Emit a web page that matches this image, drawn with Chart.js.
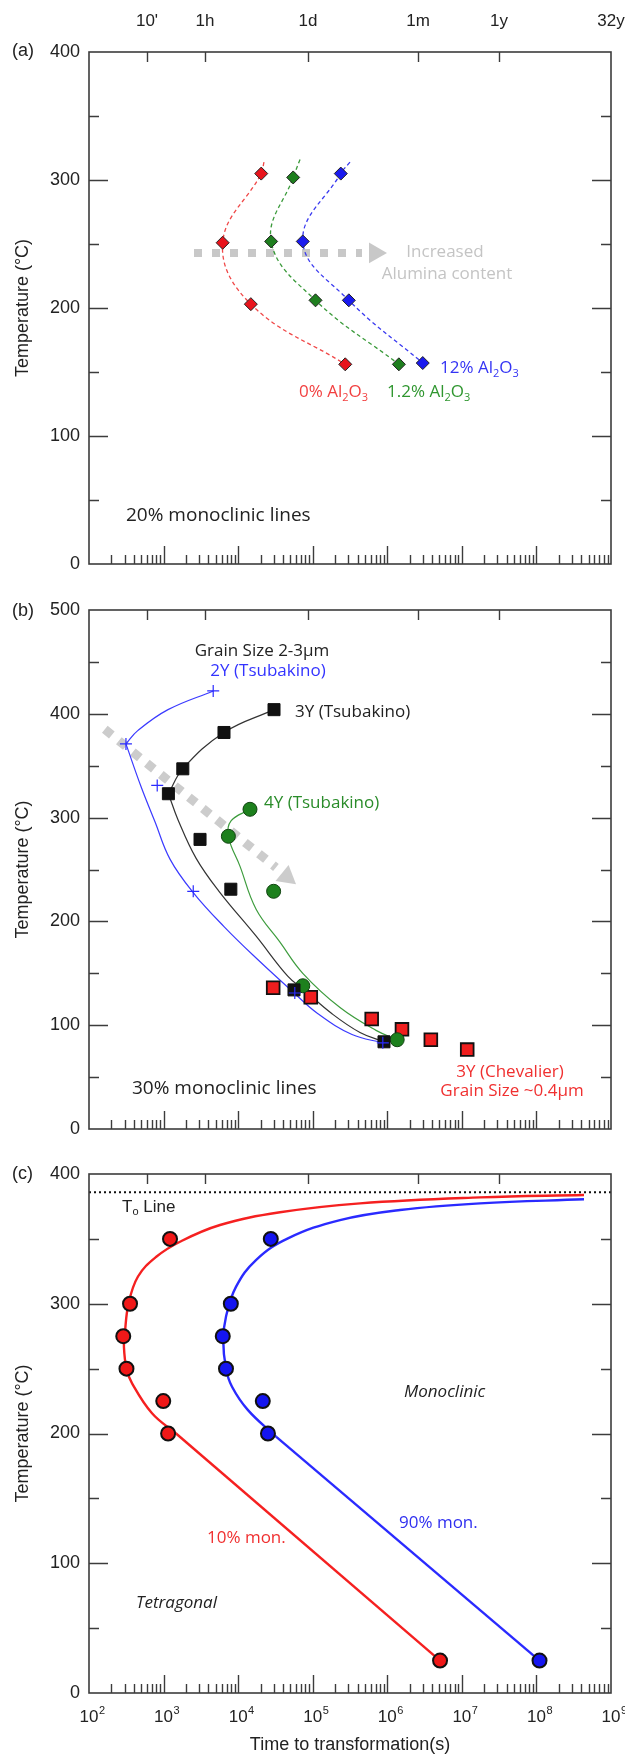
<!DOCTYPE html>
<html>
<head>
<meta charset="utf-8">
<script src="https://cdn.jsdelivr.net/npm/chart.js@4.4.1/dist/chart.umd.min.js"></script>
<style>
  html, body { margin: 0; padding: 0; background: #fff; }
  #wrap { position: relative; width: 625px; height: 1755px; }
  canvas { position: absolute; left: 0; }
</style>
</head>
<body>
<div id="wrap">
  <canvas id="panelA" width="625" height="590" style="top:0px"></canvas>
  <canvas id="panelB" width="625" height="560" style="top:590px"></canvas>
  <canvas id="panelC" width="625" height="605" style="top:1150px"></canvas>
</div>
<script>
// time labels on top of panel (a), in seconds
const topTickSeconds = [600, 3600, 86400, 2592000, 31536000, 1e9];
const topTickLabels = ["10'", '1h', '1d', '1m', '1y', '32y'];

// (a) 20% monoclinic, three alumina contents
const alu0Time = [20400, 6200, 14800, 273000];
const alu0Temp = [305, 251, 203, 156];
const alu1Time = [54700, 27700, 109000, 1430000];
const alu1Temp = [302, 252, 206, 156];
const alu12Time = [238000, 73600, 305000, 2990000];
const alu12Temp = [305, 252, 206, 157];
const alu0CurveTime = [22200, 20400, 6200, 14800, 273000];
const alu0CurveTemp = [314, 305, 251, 203, 156];
const alu1CurveTime = [67600, 54700, 27700, 109000, 1430000];
const alu1CurveTemp = [316, 302, 252, 206, 156];
const alu12CurveTime = [316000, 238000, 73600, 305000, 2990000];
const alu12CurveTemp = [314, 305, 252, 206, 157];
const arrowATime = [2560, 458000];
const arrowATemp = [243, 243];
const arrowAHeadTime = [684000];
const arrowAHeadTemp = [243];

// (b) 30% monoclinic
const y2Time = [4630, 313, 822, 2500, 57500, 871000];
const y2Temp = [422, 371, 331, 229, 131, 83];
const y2UpperTime = [4630, 1146, 454, 313];
const y2UpperTemp = [422, 404, 384, 371];
const y2LowerTime = [313, 498, 767, 1219, 2483, 6460, 18450, 54450, 117500, 336500, 871000];
const y2LowerTemp = [371, 330, 296, 260, 228, 195, 163, 132, 111, 91, 83];
const y3Time = [30270, 6460, 1811, 1161, 3083, 7980, 56100, 903600];
const y3Temp = [404, 382, 347, 323, 279, 231, 134, 84];
const y3UpperTime = [30270, 6460, 1811, 1161];
const y3UpperTemp = [404, 382, 347, 323];
const y3LowerTime = [1161, 1560, 2723, 5540, 17340, 46560, 76400, 181600, 430500, 903600];
const y3LowerTemp = [323, 298, 261, 229, 186, 147, 134, 111, 93, 84];
const y4Time = [14420, 7396, 29920, 73600, 1358000];
const y4Temp = [308, 282, 229, 138, 86];
const y4CurveTime = [14420, 8070, 7396, 10600, 17340, 36390, 73600, 232300, 706300, 1358000];
const y4CurveTemp = [308, 297, 282, 253, 212, 180, 150, 117, 95, 86];
const chevTime = [29510, 94190, 618000, 1574000, 3837000, 11800000];
const chevTemp = [136, 127, 106, 96, 86, 76.5];
const arrowBTime = [163, 32100];
const arrowBTemp = [385, 252];
const arrowBHeadTime = [44800];
const arrowBHeadTemp = [243];

// (c) TTT curves
const mon10Time = [1220, 355, 288, 318, 990, 1150, 5100000];
const mon10Temp = [350, 300, 275, 250, 225, 200, 25];
const mon90Time = [27400, 7980, 6220, 6870, 21400, 25100, 110000000];
const mon90Temp = [350, 300, 275, 250, 225, 200, 25];
const mon10CurveTime = [1470, 700, 378, 318, 294, 302, 339, 454, 791, 1660, 5715, 36390, 430500, 17500000, 434500000];
const mon10CurveTemp = [200, 215.6, 238.7, 250, 266.9, 277, 300, 321, 336, 347.8, 360.7, 370.5, 377.4, 382, 383.8];
const mon10LineTime = [5100000, 1470];
const mon10LineTemp = [25, 200];
const mon90CurveTime = [32200, 13550, 8280, 6870, 6310, 6870, 9350, 17340, 46560, 232300, 1483000, 17500000, 434500000];
const mon90CurveTemp = [197.6, 218, 236, 250, 272, 290, 313, 333.7, 350.4, 364.5, 372.3, 377.4, 380.5];
const mon90LineTime = [110000000, 32200];
const mon90LineTemp = [25, 197.6];
const t0Time = [100, 1e9];
const t0Temp = [386, 386];

const axisFont = '"Liberation Sans", Arial, sans-serif';
const annoFont = '"Open Sans", "Noto Sans", sans-serif';

Chart.defaults.font.family = axisFont;
Chart.defaults.color = '#222';

function pts(times, temps) {
  return times.map((t, i) => ({x: t, y: temps[i]}));
}

function richParts(str) {
  const parts = [];
  for (let i = 0; i < str.length; i++) {
    if (str[i] === '_') { parts.push({t: str[i + 1], sub: true}); i++; }
    else if (parts.length && !parts[parts.length - 1].sub) parts[parts.length - 1].t += str[i];
    else parts.push({t: str[i], sub: false});
  }
  return parts;
}

function drawRich(ctx, item) {
  const size = item.size || 17;
  const fam = item.family || annoFont;
  const style = item.italic ? 'italic ' : '';
  const parts = richParts(item.text);
  const fontFor = p => style + (p.sub ? Math.round(size * 0.62) : size) + 'px ' + fam;
  let w = 0;
  parts.forEach(p => { ctx.font = fontFor(p); p.w = ctx.measureText(p.t).width; w += p.w; });
  let x = item.x;
  if (item.align === 'center') x -= w / 2;
  else if (item.align === 'right') x -= w;
  ctx.textBaseline = 'middle';
  ctx.textAlign = 'left';
  ctx.fillStyle = item.color || '#222';
  parts.forEach(p => {
    ctx.font = fontFor(p);
    ctx.fillText(p.t, x, item.y + (p.sub ? size * 0.32 : 0));
    x += p.w;
  });
}

// frame, inward ticks, annotations
const frameTicks = {
  id: 'frameTicks',
  afterDraw(chart, args, opts) {
    const {ctx, chartArea} = chart;
    const {left, right, top, bottom} = chartArea;
    const x = chart.scales.x, y = chart.scales.y;
    ctx.save();
    ctx.strokeStyle = '#3c3c3c';
    ctx.lineWidth = 1.6;
    ctx.strokeRect(left, top, right - left, bottom - top);
    ctx.lineWidth = 1.4;
    ctx.beginPath();
    for (let e = 2; e < 9; e++) {
      for (let m = 1; m < 10; m++) {
        const v = m * Math.pow(10, e);
        if (v <= 100) continue;
        const px = Math.round(x.getPixelForValue(v)) + 0.5;
        const len = m === 1 ? 18 : 9;
        ctx.moveTo(px, bottom);
        ctx.lineTo(px, bottom - len);
      }
    }
    topTickSeconds.slice(0, -1).forEach(v => {
      const px = Math.round(x.getPixelForValue(v)) + 0.5;
      ctx.moveTo(px, top);
      ctx.lineTo(px, top + 10);
    });
    for (let v = 50; v < y.max; v += 50) {
      const py = Math.round(y.getPixelForValue(v)) + 0.5;
      const len = v % 100 ? 10 : 19;
      ctx.moveTo(left, py); ctx.lineTo(left + len, py);
      ctx.moveTo(right, py); ctx.lineTo(right - len, py);
    }
    ctx.stroke();

    if (opts.decadeLabels) {
      ctx.fillStyle = '#222';
      ctx.textBaseline = 'middle';
      for (let e = 2; e <= 9; e++) {
        const px = x.getPixelForValue(Math.pow(10, e));
        ctx.font = '17px ' + axisFont;
        ctx.textAlign = 'center';
        const w = ctx.measureText('10').width;
        ctx.fillText('10', px, bottom + 24);
        ctx.font = '11px ' + axisFont;
        ctx.textAlign = 'left';
        ctx.fillText(String(e), px + w / 2 + 0.5, bottom + 18);
      }
    }
    (opts.texts || []).forEach(t => drawRich(ctx, t));
    ctx.restore();
  }
};

function makeChart(id, cfg) {
  const scales = {
    x: {
      type: 'logarithmic', position: 'bottom', min: 100, max: 1e9,
      grid: {display: false, drawTicks: false}, border: {display: false},
      ticks: {display: false},
      title: cfg.xTitle ? {display: true, text: cfg.xTitle, font: {size: 18, lineHeight: 1.1}, padding: {top: 0, bottom: 0}, color: '#222'} : {display: false},
      afterFit: s => { s.height = cfg.bottomH; s.paddingLeft = 0; s.paddingRight = 0; }
    },
    y: {
      type: 'linear', min: 0, max: cfg.yMax,
      grid: {display: false, drawTicks: false}, border: {display: false},
      ticks: {stepSize: 100, padding: 9, font: {size: 18}, color: '#222'},
      title: {display: true, text: 'Temperature (°C)', font: {size: 18, lineHeight: 1.2}, padding: {top: 12, bottom: 0}, color: '#222'},
      afterFit: s => { s.width = 89; s.paddingTop = 0; s.paddingBottom = 0; }
    }
  };
  if (cfg.topAxis) {
    scales.x2 = {
      type: 'logarithmic', position: 'top', min: 100, max: 1e9,
      grid: {display: false, drawTicks: false}, border: {display: false},
      afterBuildTicks: s => { s.ticks = topTickSeconds.map(v => ({value: v})); },
      ticks: {autoSkip: false, maxRotation: 0, padding: 20, font: {size: 17}, color: '#222',
        callback: (v, i) => topTickLabels[i]},
      afterFit: s => { s.height = cfg.topH; s.paddingLeft = 0; s.paddingRight = 0; }
    };
  }
  return new Chart(document.getElementById(id), {
    type: 'scatter',
    data: {datasets: cfg.datasets},
    options: {
      responsive: false,
      animation: false,
      events: [],
      layout: {padding: {top: cfg.padTop, right: 14, left: 0, bottom: 0}},
      plugins: {
        legend: {display: false},
        tooltip: {enabled: false},
        frameTicks: {texts: cfg.texts, decadeLabels: cfg.decadeLabels}
      },
      scales: scales
    },
    plugins: [frameTicks]
  });
}

function markers(times, temps, style) {
  return Object.assign({data: pts(times, temps), showLine: false, order: 1}, style);
}
function curve(times, temps, color, width, extra) {
  return Object.assign({data: pts(times, temps), showLine: true, pointRadius: 0,
    borderColor: color, borderWidth: width, tension: 0.4, order: 5}, extra || {});
}

// ---- panel (a)
const diamond = (fill) => ({pointStyle: 'rectRot', pointRadius: 6.5, backgroundColor: fill, borderColor: '#222', borderWidth: 1});
makeChart('panelA', {
  yMax: 400, padTop: 0, topH: 52, bottomH: 26, topAxis: true,
  datasets: [
    markers(alu0Time, alu0Temp, diamond('#e8141c')),
    markers(alu1Time, alu1Temp, diamond('#1e7e1e')),
    markers(alu12Time, alu12Temp, diamond('#1a1aee')),
    curve(alu0CurveTime, alu0CurveTemp, '#f04848', 1.3, {borderDash: [4, 3]}),
    curve(alu1CurveTime, alu1CurveTemp, '#3a9a3a', 1.3, {borderDash: [4, 3]}),
    curve(alu12CurveTime, alu12CurveTemp, '#3a3af0', 1.3, {borderDash: [4, 3]}),
    curve(arrowATime, arrowATemp, '#c8c8c8', 8, {borderDash: [8, 10], tension: 0, order: 8}),
    markers(arrowAHeadTime, arrowAHeadTemp, {pointStyle: 'triangle', rotation: 90, pointRadius: 12, backgroundColor: '#c8c8c8', borderWidth: 0, order: 8})
  ],
  texts: [
    {x: 12, y: 51, text: '(a)', family: axisFont, size: 18},
    {x: 440, y: 368, text: '12% Al_2O_3', color: '#3434f4'},
    {x: 299, y: 392, text: '0% Al_2O_3', color: '#f24040'},
    {x: 387, y: 392, text: '1.2% Al_2O_3', color: '#2f962f'},
    {x: 445, y: 252, text: 'Increased', color: '#c4c4c4', align: 'center'},
    {x: 447, y: 274, text: 'Alumina content', color: '#c4c4c4', align: 'center'},
    {x: 126, y: 516, text: '20% monoclinic lines', size: 19}
  ]
});

// ---- panel (b)
makeChart('panelB', {
  yMax: 500, padTop: 20, bottomH: 21,
  datasets: [
    markers(y2Time, y2Temp, {pointStyle: 'cross', pointRadius: 6, borderColor: '#2b2bff', borderWidth: 1.2, order: 1}),
    markers(y3Time, y3Temp, {pointStyle: 'rect', pointRadius: 8.5, backgroundColor: '#111', borderColor: '#111', borderWidth: 1, order: 2}),
    markers(y4Time, y4Temp, {pointStyle: 'circle', pointRadius: 7, backgroundColor: '#1d801d', borderColor: '#124412', borderWidth: 1, order: 3}),
    markers(chevTime, chevTemp, {pointStyle: 'rect', pointRadius: 9, backgroundColor: '#f01e1e', borderColor: '#111', borderWidth: 1.8, order: 4}),
    curve(y2UpperTime, y2UpperTemp, '#3a3aff', 1.2),
    curve(y2LowerTime, y2LowerTemp, '#3a3aff', 1.2),
    curve(y3UpperTime, y3UpperTemp, '#333', 1.2),
    curve(y3LowerTime, y3LowerTemp, '#333', 1.2),
    curve(y4CurveTime, y4CurveTemp, '#3d9c3d', 1.2),
    curve(arrowBTime, arrowBTemp, '#cccccc', 9, {borderDash: [9, 9], tension: 0, order: 8}),
    markers(arrowBHeadTime, arrowBHeadTemp, {pointStyle: 'triangle', rotation: 129, pointRadius: 12, backgroundColor: '#cccccc', borderWidth: 0, order: 8})
  ],
  texts: [
    {x: 12, y: 21, text: '(b)', family: axisFont, size: 18},
    {x: 262, y: 61, text: 'Grain Size 2-3µm', align: 'center'},
    {x: 268, y: 81, text: '2Y (Tsubakino)', color: '#3333ff', align: 'center'},
    {x: 295, y: 122, text: '3Y (Tsubakino)'},
    {x: 264, y: 213, text: '4Y (Tsubakino)', color: '#2a8c2a'},
    {x: 132, y: 499, text: '30% monoclinic lines', size: 19},
    {x: 510, y: 482, text: '3Y (Chevalier)', color: '#f03030', align: 'center'},
    {x: 512, y: 501, text: 'Grain Size ~0.4µm', color: '#f03030', align: 'center'}
  ]
});

// ---- panel (c)
const dot = (fill) => ({pointStyle: 'circle', pointRadius: 7, backgroundColor: fill, borderColor: '#111', borderWidth: 2});
makeChart('panelC', {
  yMax: 400, padTop: 24, bottomH: 62, decadeLabels: true, xTitle: 'Time to transformation(s)',
  datasets: [
    markers(mon10Time, mon10Temp, dot('#f01818')),
    markers(mon90Time, mon90Temp, dot('#1515f0')),
    curve(mon10CurveTime, mon10CurveTemp, '#f52020', 2.4),
    curve(mon10LineTime, mon10LineTemp, '#f52020', 2.4, {tension: 0}),
    curve(mon90CurveTime, mon90CurveTemp, '#2a2aff', 2.4),
    curve(mon90LineTime, mon90LineTemp, '#2a2aff', 2.4, {tension: 0}),
    curve(t0Time, t0Temp, '#111', 2, {borderDash: [2, 3], tension: 0})
  ],
  texts: [
    {x: 12, y: 24, text: '(c)', family: axisFont, size: 18},
    {x: 122, y: 57, text: 'T_o Line', family: axisFont, size: 17},
    {x: 404, y: 242, text: 'Monoclinic', italic: true},
    {x: 136, y: 453, text: 'Tetragonal', italic: true},
    {x: 207, y: 388, text: '10% mon.', color: '#f03030'},
    {x: 399, y: 373, text: '90% mon.', color: '#3030f0'}
  ]
});
</script>
</body>
</html>
